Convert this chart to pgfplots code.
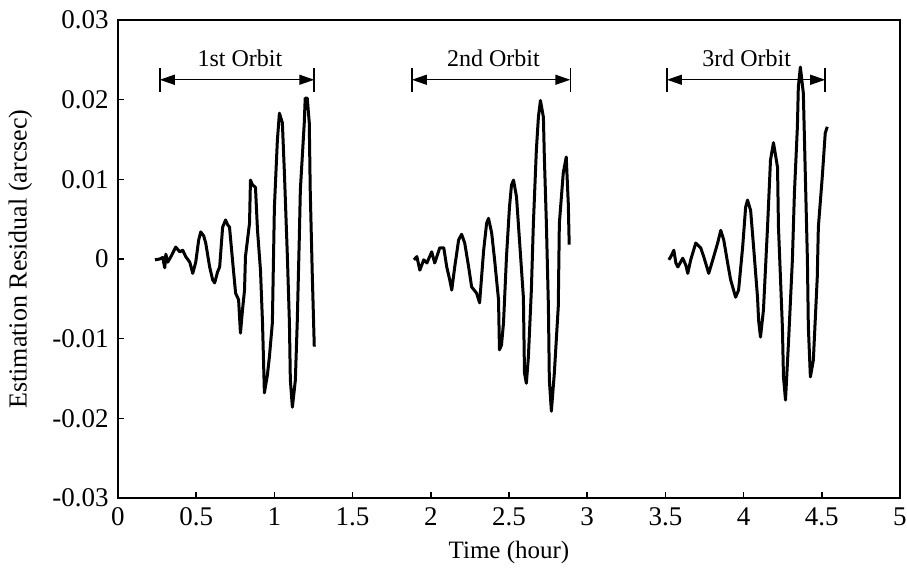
\documentclass[border=0pt]{standalone}
\usepackage{pgfplots}
\pgfplotsset{compat=1.18}
\usepackage{fontspec}
\setmainfont{Liberation Serif}
\usetikzlibrary{arrows.meta}

\begin{document}
\fontsize{13.5}{16}\selectfont
\begin{tikzpicture}
\useasboundingbox (-59pt,-36pt) rectangle (394.5pt,249pt);
\begin{axis}[
    scale only axis,
    width=391pt, height=239pt,
    xmin=0, xmax=5, ymin=-0.03, ymax=0.03,
    xtick={0,0.5,1,1.5,2,2.5,3,3.5,4,4.5,5},
    ytick={-0.03,-0.02,-0.01,0,0.01,0.02,0.03},
    yticklabels={-0.03,-0.02,-0.01,0,0.01,0.02,0.03},
    scaled y ticks=false,
    tick pos=left, tick align=inside,
    major tick length=3pt,
    axis line style={line width=1pt},
    tick style={line width=0.8pt, black},
    /pgf/number format/assume math mode=true,
    every axis y label/.style={at={(axis description cs:-0.125,0.5)},rotate=90,anchor=center,font=\fontsize{13}{15}\selectfont},
    every axis x label/.style={at={(axis description cs:0.5,-0.115)},anchor=center,font=\fontsize{12.5}{15}\selectfont},
    xlabel={Time (hour)},
    ylabel={Estimation Residual (arcsec)},
    clip=false,
]
% 1st orbit
\addplot[black, line width=1.5pt, line join=round] coordinates {
(0.236,-0.0001) (0.267,0) (0.286,0.0002) (0.299,-0.0011) (0.306,0.0006)
(0.318,-0.0004) (0.344,0.0005) (0.369,0.0015) (0.395,0.0009) (0.414,0.0011)
(0.433,0.0003) (0.459,-0.0004) (0.478,-0.0018) (0.497,-0.0004) (0.516,0.0024)
(0.529,0.0034) (0.548,0.0029) (0.561,0.0020) (0.586,-0.0010) (0.605,-0.0026)
(0.618,-0.0030) (0.637,-0.0016) (0.650,-0.0010) (0.669,0.0040) (0.688,0.0049)
(0.701,0.0043) (0.713,0.0040) (0.732,-0.0001) (0.752,-0.0043) (0.771,-0.0051)
(0.783,-0.0093) (0.796,-0.0064) (0.809,-0.0039) (0.815,0.0003) (0.841,0.0045)
(0.847,0.0099) (0.860,0.0093) (0.879,0.0090) (0.892,0.0036) (0.911,-0.0014)
(0.924,-0.0080) (0.936,-0.0168) (0.955,-0.0146) (0.968,-0.0123) (0.987,-0.0080)
(1.000,0.0065) (1.019,0.0149) (1.032,0.0183) (1.051,0.0171) (1.064,0.0108)
(1.083,0.0003) (1.096,-0.0080) (1.102,-0.0152) (1.115,-0.0186) (1.134,-0.0152)
(1.146,-0.0080) (1.159,0.0024) (1.166,0.0087) (1.191,0.0171) (1.197,0.0202)
(1.210,0.0202) (1.223,0.0171) (1.229,0.0087) (1.242,-0.0018) (1.255,-0.0110)
};
% 2nd orbit
\addplot[black, line width=1.5pt, line join=round] coordinates {
(1.892,-0.0001) (1.911,0.0003) (1.930,-0.0014) (1.955,-0.0001) (1.975,-0.0005)
(2.006,0.0009) (2.025,-0.0005) (2.057,0.0014) (2.083,0.0014) (2.102,-0.0010)
(2.121,-0.0026) (2.134,-0.0039) (2.153,-0.0010) (2.178,0.0024) (2.197,0.0031)
(2.217,0.0020) (2.242,-0.0010) (2.261,-0.0035) (2.293,-0.0043) (2.312,-0.0055)
(2.338,0.0011) (2.357,0.0045) (2.369,0.0051) (2.389,0.0033) (2.408,-0.0001)
(2.433,-0.0051) (2.439,-0.0114) (2.452,-0.0108) (2.465,-0.0080) (2.484,0.0003)
(2.503,0.0065) (2.516,0.0093) (2.529,0.0099) (2.548,0.0078) (2.567,0.0024)
(2.592,-0.0048) (2.599,-0.0143) (2.611,-0.0156) (2.624,-0.0123) (2.643,-0.0039)
(2.656,0.0045) (2.675,0.0137) (2.688,0.0178) (2.701,0.0199) (2.720,0.0178)
(2.726,0.0128) (2.739,0.0045) (2.752,-0.0060) (2.758,-0.0152) (2.771,-0.0191)
(2.790,-0.0143) (2.815,-0.0060) (2.822,0.0045) (2.847,0.0108) (2.866,0.0128)
(2.879,0.0070) (2.885,0.0018)
};
% 3rd orbit
\addplot[black, line width=1.5pt, line join=round] coordinates {
(3.522,-0.0001) (3.535,0.0003) (3.554,0.0011) (3.567,-0.0005) (3.580,-0.0010)
(3.611,0.0001) (3.631,-0.0008) (3.643,-0.0018) (3.662,-0.0001) (3.694,0.0020)
(3.726,0.0014) (3.745,0.0003) (3.777,-0.0018) (3.803,-0.0001) (3.834,0.0020)
(3.854,0.0036) (3.873,0.0024) (3.898,-0.0005) (3.917,-0.0026) (3.949,-0.0048)
(3.968,-0.0039) (3.994,0.0015) (4.013,0.0065) (4.025,0.0074) (4.045,0.0061)
(4.064,0.0015) (4.089,-0.0048) (4.096,-0.0077) (4.108,-0.0098) (4.127,-0.0064)
(4.153,0.0040) (4.172,0.0124) (4.191,0.0146) (4.217,0.0115) (4.223,0.0040)
(4.248,-0.0085) (4.255,-0.0148) (4.268,-0.0177) (4.287,-0.0105) (4.312,-0.0001)
(4.325,0.0083) (4.344,0.0166) (4.350,0.0216) (4.363,0.0241) (4.382,0.0208)
(4.395,0.0103) (4.408,-0.0001) (4.414,-0.0085) (4.427,-0.0148) (4.446,-0.0127)
(4.471,-0.0023) (4.478,0.0040) (4.503,0.0103) (4.522,0.0158) (4.535,0.0166)
};
% orbit annotations
\tikzset{orbarrow/.style={line width=0.7pt, {Triangle[length=7.5pt,width=5pt]}-{Triangle[length=7.5pt,width=5pt]}}}
\draw[orbarrow] (axis cs:0.267,0.0225) -- (axis cs:1.255,0.0225);
\draw[line width=0.8pt] (axis cs:0.267,0.0210) -- (axis cs:0.267,0.0240);
\draw[line width=0.8pt] (axis cs:1.255,0.0210) -- (axis cs:1.255,0.0240);
\node[font=\fontsize{12}{14}\selectfont] at (axis cs:0.78,0.0252) {1st Orbit};
\draw[orbarrow] (axis cs:1.879,0.0225) -- (axis cs:2.892,0.0225);
\draw[line width=0.8pt] (axis cs:1.879,0.0210) -- (axis cs:1.879,0.0240);
\draw[line width=0.8pt] (axis cs:2.892,0.0210) -- (axis cs:2.892,0.0240);
\node[font=\fontsize{12}{14}\selectfont] at (axis cs:2.40,0.0252) {2nd Orbit};
\draw[orbarrow] (axis cs:3.510,0.0225) -- (axis cs:4.522,0.0225);
\draw[line width=0.8pt] (axis cs:3.510,0.0210) -- (axis cs:3.510,0.0240);
\draw[line width=0.8pt] (axis cs:4.522,0.0210) -- (axis cs:4.522,0.0240);
\node[font=\fontsize{12}{14}\selectfont] at (axis cs:4.02,0.0252) {3rd Orbit};
\end{axis}
\end{tikzpicture}
\end{document}
